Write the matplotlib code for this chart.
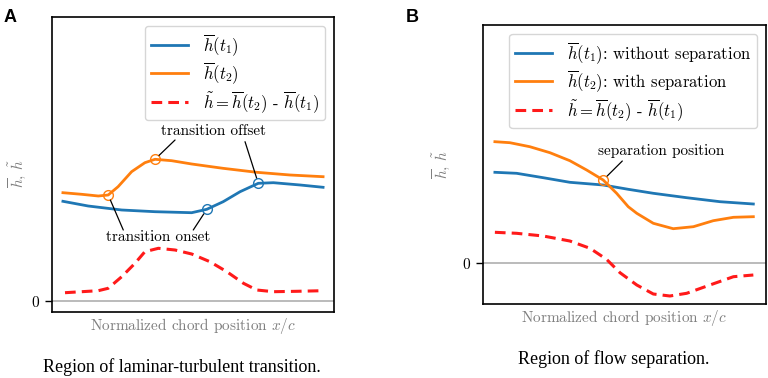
import matplotlib
matplotlib.use("Agg")
import matplotlib.pyplot as plt

plt.rcParams['font.family'] = 'serif'
plt.rcParams['font.serif'] = ['cmr10', 'DejaVu Serif']
plt.rcParams['mathtext.fontset'] = 'cm'
plt.rcParams['axes.unicode_minus'] = False
plt.rcParams['axes.formatter.use_mathtext'] = True

# ---------------- Panel A data (normalized chord position, relative h) -------------
a_orange_x = [0.0, 0.072, 0.136, 0.174, 0.212, 0.264, 0.315, 0.354, 0.418, 0.495, 0.615, 0.745, 0.873, 1.0]
a_orange_y = [1.083, 1.067, 1.05, 1.06, 1.143, 1.293, 1.383, 1.417, 1.403, 1.37, 1.327, 1.287, 1.26, 1.243]
a_blue_x = [0.0, 0.097, 0.226, 0.354, 0.495, 0.553, 0.616, 0.681, 0.751, 0.809, 0.912, 1.0]
a_blue_y = [0.997, 0.95, 0.91, 0.893, 0.883, 0.917, 0.993, 1.093, 1.177, 1.183, 1.16, 1.137]
a_red_x = [0.008, 0.136, 0.174, 0.226, 0.277, 0.315, 0.367, 0.431, 0.495, 0.565, 0.630, 0.694, 0.745, 0.809, 0.899, 1.0]
a_red_y = [0.083, 0.103, 0.127, 0.243, 0.377, 0.493, 0.527, 0.51, 0.47, 0.393, 0.293, 0.177, 0.11, 0.093, 0.097, 0.103]
a_orange_mark_x = [0.174, 0.354]
a_orange_mark_y = [1.06, 1.417]
a_blue_mark_x = [0.553, 0.751]
a_blue_mark_y = [0.917, 1.177]

# ---------------- Panel B data -------------
b_orange_x = [0.0, 0.058, 0.135, 0.213, 0.290, 0.355, 0.419, 0.471, 0.516, 0.549, 0.613, 0.690, 0.768, 0.845, 0.923, 1.0]
b_orange_y = [1.21, 1.20, 1.16, 1.10, 1.02, 0.927, 0.827, 0.694, 0.56, 0.494, 0.394, 0.34, 0.36, 0.42, 0.454, 0.46]
b_blue_x = [0.0, 0.084, 0.187, 0.290, 0.419, 0.516, 0.613, 0.742, 0.871, 1.0]
b_blue_y = [0.904, 0.894, 0.85, 0.804, 0.777, 0.734, 0.694, 0.65, 0.61, 0.587]
b_red_x = [0.0, 0.084, 0.187, 0.290, 0.368, 0.432, 0.484, 0.549, 0.613, 0.677, 0.742, 0.832, 0.923, 1.0]
b_red_y = [0.304, 0.294, 0.267, 0.217, 0.144, 0.034, -0.10, -0.223, -0.313, -0.333, -0.306, -0.223, -0.14, -0.123]
b_mark_x = [0.419]
b_mark_y = [0.827]

labels_a = [r'$\overline{h}(t_1)$', r'$\overline{h}(t_2)$',
            r'$\tilde{h} = \overline{h}(t_2)$ - $\overline{h}(t_1)$']
labels_b = [r'$\overline{h}(t_1)$: without separation', r'$\overline{h}(t_2)$: with separation',
            r'$\tilde{h} = \overline{h}(t_2)$ - $\overline{h}(t_1)$']

BLUE = '#1f77b4'
ORANGE = '#ff7f0e'
RED = '#ff1a1a'
GREY = '#7f7f7f'
FS = 11

fig = plt.figure(figsize=(7.68, 3.78), dpi=100)
axA = fig.add_axes([52/768, 1-312/378, 282/768, 295/378])
axB = fig.add_axes([483/768, 1-304/378, 283/768, 279/378])


def style(ax):
    ax.axhline(0, color='#b5b5b5', lw=1.3, zorder=0)
    ax.set_xticks([])
    ax.set_yticks([0])
    ax.set_yticklabels(['$0$'], fontsize=FS)
    ax.tick_params(axis='y', length=5, width=1)
    for s in ax.spines.values():
        s.set_linewidth(1.2)
    ax.set_xlabel(r'Normalized chord position $x/c$', fontsize=FS, color=GREY, labelpad=3)
    ax.set_ylabel(r'$\overline{h}$, $\tilde{h}$', fontsize=FS, color=GREY)


def legend(ax, handles, labels):
    ax.legend(handles, labels, loc='upper right', fontsize=FS + 1, handlelength=2.2,
              borderaxespad=0.55, labelspacing=0.15, borderpad=0.35, handletextpad=0.9)


arrow = dict(arrowstyle='-', color='black', lw=0.9, shrinkA=0, shrinkB=4)

# Panel A
lb, = axA.plot(a_blue_x, a_blue_y, color=BLUE, lw=2)
lo, = axA.plot(a_orange_x, a_orange_y, color=ORANGE, lw=2)
lr, = axA.plot(a_red_x, a_red_y, color=RED, lw=2.2, ls=(0, (3.5, 2.0)))
axA.plot(a_orange_mark_x, a_orange_mark_y, 'o', mfc='none', mec=ORANGE, ms=7, mew=1)
axA.plot(a_blue_mark_x, a_blue_mark_y, 'o', mfc='none', mec=BLUE, ms=7, mew=1)
axA.set_xlim(-0.042, 1.042)
axA.set_ylim(-0.11, 2.84)
style(axA)
axA.yaxis.set_label_coords(-0.085, 0.47)
legend(axA, [lb, lo, lr], labels_a)
axA.text(0.577, 1.70, 'transition offset', fontsize=FS, ha='center', va='center')
axA.text(0.365, 0.64, 'transition onset', fontsize=FS, ha='center', va='center')
axA.annotate('', xy=(0.354, 1.417), xytext=(0.431, 1.61), arrowprops=arrow)
axA.annotate('', xy=(0.751, 1.177), xytext=(0.70, 1.593), arrowprops=arrow)
axA.annotate('', xy=(0.174, 1.06), xytext=(0.232, 0.71), arrowprops=arrow)
axA.annotate('', xy=(0.553, 0.917), xytext=(0.501, 0.71), arrowprops=arrow)

# Panel B
lb, = axB.plot(b_blue_x, b_blue_y, color=BLUE, lw=2)
lo, = axB.plot(b_orange_x, b_orange_y, color=ORANGE, lw=2)
lr, = axB.plot(b_red_x, b_red_y, color=RED, lw=2.2, ls=(0, (3.5, 2.0)))
axB.plot(b_mark_x, b_mark_y, 'o', mfc='none', mec=ORANGE, ms=7, mew=1)
axB.set_xlim(-0.046, 1.049)
axB.set_ylim(-0.413, 2.377)
style(axB)
axB.yaxis.set_label_coords(-0.11, 0.5)
legend(axB, [lb, lo, lr], labels_b)
axB.text(0.643, 1.117, 'separation position', fontsize=FS, ha='center', va='center')
axB.annotate('', xy=(0.419, 0.827), xytext=(0.493, 1.017), arrowprops=arrow)

# panel letters and captions
fig.text(0.004, 0.975, 'A', fontsize=13, fontweight='bold', family='Liberation Sans', va='top')
fig.text(406/768, 0.975, 'B', fontsize=13, fontweight='bold', family='Liberation Sans', va='top')
fig.text(182/768, 1-367/378, 'Region of laminar-turbulent transition.', fontsize=13,
         family='Liberation Serif', ha='center', va='center')
fig.text(614/768, 1-359/378, 'Region of flow separation.', fontsize=13,
         family='Liberation Serif', ha='center', va='center')

fig.savefig('out.png', dpi=100)
